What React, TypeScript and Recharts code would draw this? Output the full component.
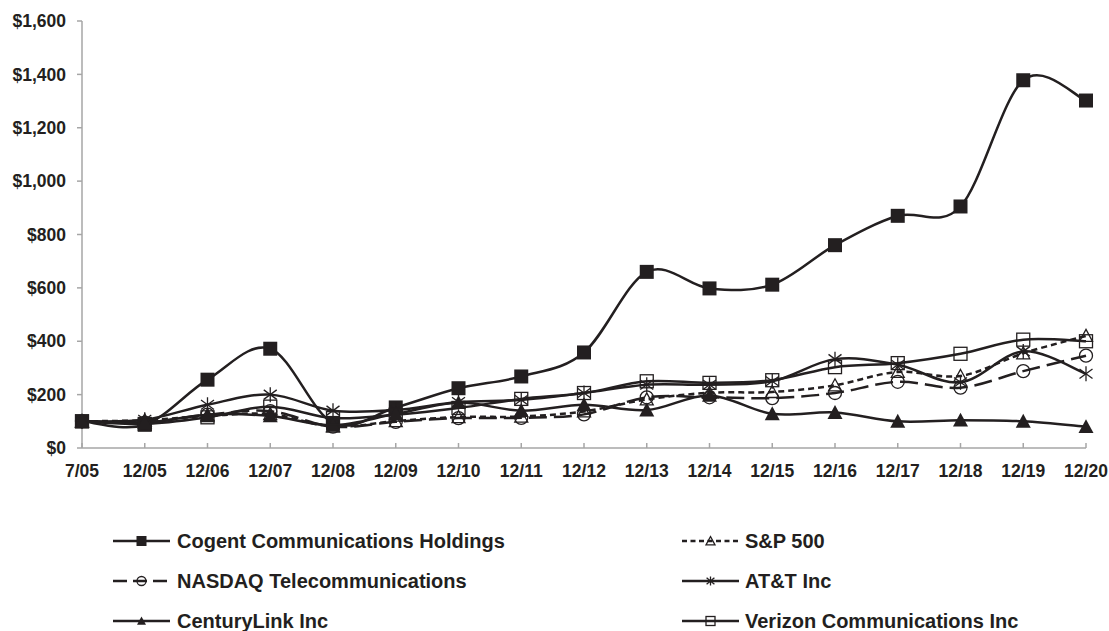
import React from "react";
import { LineChart, Line, XAxis, YAxis } from "recharts";

const periods = ["7/05", "12/05", "12/06", "12/07", "12/08", "12/09", "12/10", "12/11", "12/12", "12/13", "12/14", "12/15", "12/16", "12/17", "12/18", "12/19", "12/20"];
const cogent = [100, 87, 256, 372, 94, 152, 224, 268, 358, 660, 598, 612, 760, 870, 905, 1378, 1302];
const sp500 = [100, 104, 120, 127, 80, 101, 116, 118, 137, 182, 207, 210, 235, 285, 270, 355, 420];
const nasdaqTel = [100, 95, 125, 138, 80, 98, 112, 113, 126, 190, 190, 187, 206, 248, 226, 288, 346];
const att = [100, 106, 162, 200, 140, 142, 172, 180, 206, 237, 237, 250, 333, 312, 246, 362, 278];
const centuryLink = [100, 95, 125, 120, 85, 128, 170, 140, 162, 142, 197, 128, 133, 100, 104, 100, 80];
const verizon = [100, 90, 115, 155, 112, 125, 150, 184, 206, 250, 244, 254, 303, 318, 353, 406, 400];
const yTicks = [0, 200, 400, 600, 800, 1000, 1200, 1400, 1600];

const INK = "#231f20";
const AXIS = "#a6a6a6";
const FONT = "'Liberation Sans', Arial, sans-serif";

const data = periods.map((p, i) => ({
  period: p,
  cogent: cogent[i],
  sp500: sp500[i],
  nasdaq: nasdaqTel[i],
  att: att[i],
  centuryLink: centuryLink[i],
  verizon: verizon[i],
}));

// Excel-style smoothed line (uniform Catmull-Rom as cubic beziers)
function smoothCurve(context: any) {
  let pts: number[][] = [];
  return {
    areaStart() {},
    areaEnd() {},
    lineStart() {
      pts = [];
    },
    point(x: number, y: number) {
      pts.push([+x, +y]);
    },
    lineEnd() {
      if (!pts.length) return;
      context.moveTo(pts[0][0], pts[0][1]);
      for (let i = 0; i < pts.length - 1; i++) {
        const p0 = pts[i - 1] || pts[i];
        const p1 = pts[i];
        const p2 = pts[i + 1];
        const p3 = pts[i + 2] || p2;
        context.bezierCurveTo(
          p1[0] + (p2[0] - p0[0]) / 6,
          p1[1] + (p2[1] - p0[1]) / 6,
          p2[0] - (p3[0] - p1[0]) / 6,
          p2[1] - (p3[1] - p1[1]) / 6,
          p2[0],
          p2[1]
        );
      }
    },
  };
}

type Kind = "fsq" | "osq" | "ftri" | "otri" | "ocirc" | "star";

function Marker({ kind, cx, cy, s }: { kind: Kind; cx: number; cy: number; s: number }) {
  const h = s / 2;
  const sw = 1.3;
  switch (kind) {
    case "fsq":
      return <rect x={cx - h} y={cy - h} width={s} height={s} fill={INK} />;
    case "osq":
      return <rect x={cx - h} y={cy - h} width={s} height={s} fill="none" stroke={INK} strokeWidth={sw} />;
    case "ftri":
      return <polygon points={`${cx},${cy - h} ${cx + h},${cy + h * 0.85} ${cx - h},${cy + h * 0.85}`} fill={INK} />;
    case "otri":
      return (
        <polygon
          points={`${cx},${cy - h} ${cx + h},${cy + h * 0.85} ${cx - h},${cy + h * 0.85}`}
          fill="none"
          stroke={INK}
          strokeWidth={sw}
        />
      );
    case "ocirc":
      return <circle cx={cx} cy={cy} r={h} fill="none" stroke={INK} strokeWidth={sw} />;
    case "star": {
      const d = h * 0.866;
      return (
        <g stroke={INK} strokeWidth={sw}>
          <line x1={cx} y1={cy - h} x2={cx} y2={cy + h} />
          <line x1={cx - d} y1={cy - h / 2 - 1} x2={cx + d} y2={cy + h / 2 + 1} />
          <line x1={cx - d} y1={cy + h / 2 + 1} x2={cx + d} y2={cy - h / 2 - 1} />
        </g>
      );
    }
  }
  return null;
}

const dotOf = (kind: Kind, s: number) => (props: any) =>
  <Marker key={`${kind}-${props.index}`} kind={kind} cx={props.cx} cy={props.cy} s={s} />;

const series = [
  { key: "cogent", name: "Cogent Communications Holdings", kind: "fsq" as Kind, size: 14, dash: undefined },
  { key: "sp500", name: "S&P 500", kind: "otri" as Kind, size: 13, dash: "6 4" },
  { key: "nasdaq", name: "NASDAQ Telecommunications", kind: "ocirc" as Kind, size: 13, dash: "18 7" },
  { key: "att", name: "AT&T Inc", kind: "star" as Kind, size: 15, dash: undefined },
  { key: "centuryLink", name: "CenturyLink Inc", kind: "ftri" as Kind, size: 15, dash: undefined },
  { key: "verizon", name: "Verizon Communications Inc", kind: "osq" as Kind, size: 13, dash: undefined },
];

const legendPos = [
  { sym: 113, text: 177, row: 541 },
  { sym: 682, text: 745, row: 541 },
  { sym: 113, text: 177, row: 581 },
  { sym: 682, text: 745, row: 581 },
  { sym: 113, text: 177, row: 621 },
  { sym: 682, text: 745, row: 621 },
];

function ChartLegend() {
  return (
    <svg width={1109} height={631} style={{ position: "absolute", left: 0, top: 0, pointerEvents: "none" }}>
      {series.map((s, i) => {
        const p = legendPos[i];
        const mid = p.sym + 28.5;
        return (
          <g key={s.key}>
            <line
              x1={p.sym}
              x2={p.sym + 57}
              y1={p.row}
              y2={p.row}
              stroke={INK}
              strokeWidth={2.5}
              strokeDasharray={s.dash ? (s.key === "nasdaq" ? "14 6" : "5 3.5") : undefined}
            />
            <Marker kind={s.kind} cx={mid} cy={p.row} s={s.kind === "fsq" ? 10 : 9} />
            <text x={p.text} y={p.row + 7} fontFamily={FONT} fontWeight="bold" fontSize={20} fill={INK}>
              {s.name}
            </text>
          </g>
        );
      })}
    </svg>
  );
}

export default function App() {
  return (
    <div style={{ position: "relative", width: 1109, height: 631, background: "#fff", overflow: "hidden" }}>
      <style>{"body{margin:0}"}</style>
      <LineChart width={1109} height={500} data={data} margin={{ top: 21, right: 23, left: 0, bottom: 12 }}>
        <XAxis
          dataKey="period"
          interval={0}
          height={40}
          stroke={AXIS}
          strokeWidth={1.5}
          tickSize={-5}
          tickMargin={22}
          tick={{ fill: INK, fontFamily: FONT, fontWeight: "bold", fontSize: 17.5 }}
        />
        <YAxis
          width={82}
          domain={[0, 1600]}
          ticks={yTicks}
          interval={0}
          stroke={AXIS}
          strokeWidth={1.5}
          tickSize={5}
          tickMargin={11}
          tickFormatter={(v: number) => "$" + v.toLocaleString("en-US")}
          tick={{ fill: INK, fontFamily: FONT, fontWeight: "bold", fontSize: 17.5 }}
        />
        {series.map((s) => (
          <Line
            key={s.key}
            dataKey={s.key}
            name={s.name}
            type={smoothCurve as any}
            stroke={INK}
            strokeWidth={2.5}
            strokeDasharray={s.dash}
            dot={dotOf(s.kind, s.size)}
            activeDot={false}
            isAnimationActive={false}
          />
        ))}
      </LineChart>
      <ChartLegend />
    </div>
  );
}
